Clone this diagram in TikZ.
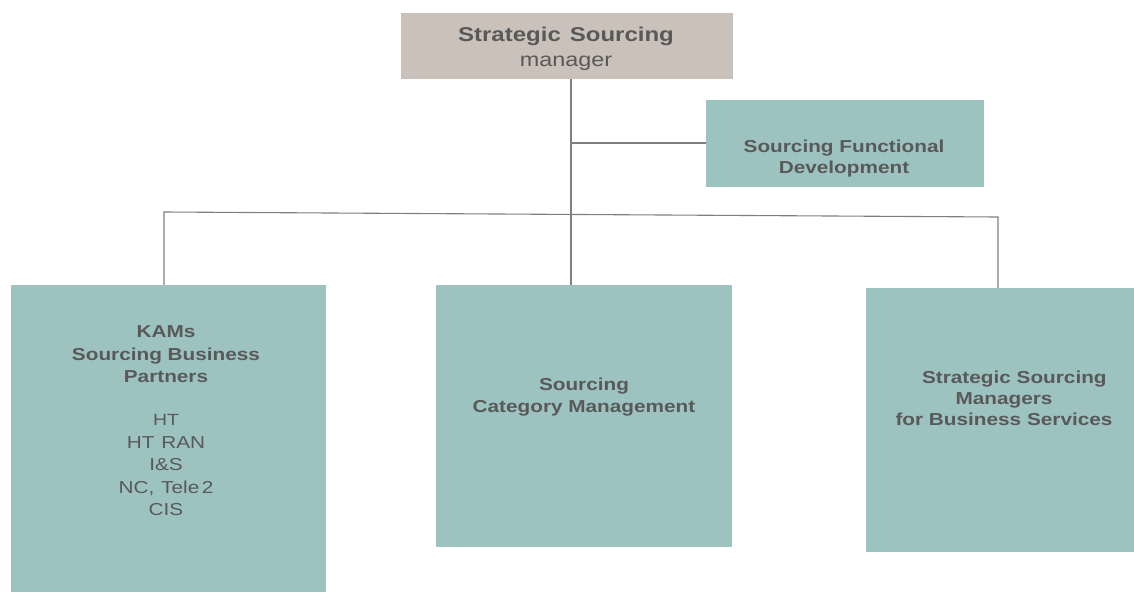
\documentclass[tikz,border=0pt]{standalone}
\usepackage{fontspec}
\setmainfont{Liberation Sans}[FakeStretch=1.2]
\definecolor{tealbox}{HTML}{9DC3C1}
\definecolor{greybox}{HTML}{C9C1BA}
\definecolor{txt}{HTML}{595959}
\definecolor{conn}{HTML}{7F7F7F}
\tikzset{
  box/.style={draw=none, inner sep=0pt},
  lbl/.style={anchor=north, inner sep=0pt, align=center, text=txt},
  link/.style={draw=conn, line width=1.1pt},
}
\begin{document}
\begin{tikzpicture}[x=1pt,y=-1pt]
\useasboundingbox (0,0) rectangle (1134,592);
% boxes
\node[box, fill=greybox, minimum width=332pt, minimum height=66pt] (top) at (567,46) {};
\node[box, fill=tealbox, minimum width=278pt, minimum height=87pt] (sfd) at (845,143.5) {};
\node[box, fill=tealbox, minimum width=315pt, minimum height=307pt] (kam) at (168.5,438.5) {};
\node[box, fill=tealbox, minimum width=296pt, minimum height=262pt] (cat) at (584,416) {};
\node[box, fill=tealbox, minimum width=268pt, minimum height=264pt] (ssm) at (1000,420) {};
% texts
\node[lbl, font=\fontsize{20}{25}\selectfont] (toptxt) at (566,26.6)
  {\textbf{Strategic\hspace{0.45em}Sourcing}\\ \fontsize{19.5}{25}\selectfont manager};
\node[lbl, font=\fontsize{17.3}{21}\selectfont\bfseries] (sfdtxt) at (844,140.2)
  {Sourcing Functional\\ Development};
\node[lbl, font=\fontsize{17.3}{22.5}\selectfont] (kamtxt) at (166,325.5)
  {\textbf{KAMs}\\ \textbf{Sourcing Business}\\ \textbf{Partners}\\[20.5pt]
   \fontsize{16.2}{22.7}\selectfont
   HT\\ HT\hspace{0.4em}RAN\\ I\&S\\ NC,\hspace{0.4em}Tele\hspace{0.15em}2\\ CIS};
\node[lbl, font=\fontsize{17.3}{22}\selectfont\bfseries] (cattxt) at (584,377.5)
  {Sourcing\\ Category Management};
\node[lbl, font=\fontsize{17.3}{21}\selectfont\bfseries] (ssmtxt) at (1004,370.5)
  {\hspace{1.2em}Strategic Sourcing\\ Managers\\ for Business Services};
% connectors
\coordinate (jv) at (571,143);
\coordinate (bl) at (164,212);
\coordinate (br) at (998,217);
\draw[link] (top.south -| jv) -- (cat.north -| jv);
\draw[link] (jv) -- (sfd.west |- jv);
\draw[link] (kam.north -| bl) -- (bl) -- (br) -- (ssm.north -| br);
\end{tikzpicture}
\end{document}
